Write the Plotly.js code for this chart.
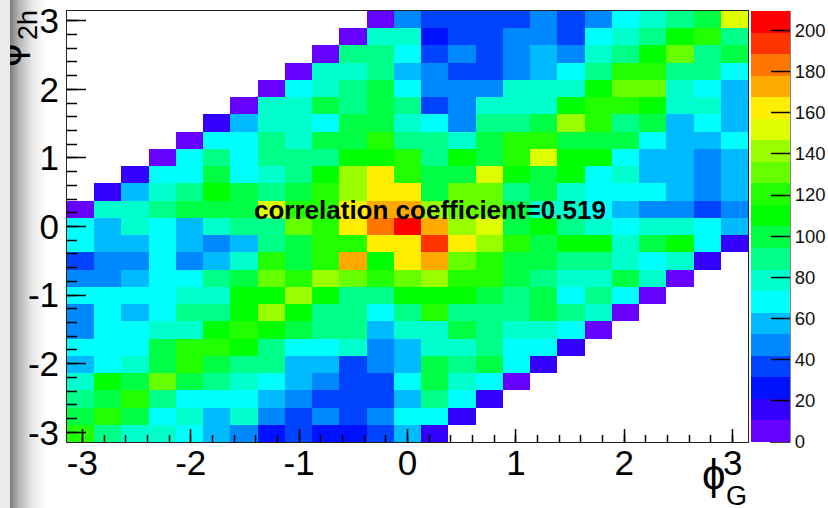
<!DOCTYPE html>
<html>
<head>
<meta charset="utf-8">
<script src="https://cdn.plot.ly/plotly-3.0.1.min.js"></script>
<style>
html,body{margin:0;padding:0;width:828px;height:508px;overflow:hidden;background:#fff;}
#bg{position:absolute;left:10px;top:0;width:36px;height:508px;background:linear-gradient(to right,#7d7d7d,#b5b5b5 25%,#e6e6e6 60%,#ffffff);}
#strip{position:absolute;left:0;top:0;width:10px;height:508px;background:#ebebeb;z-index:5;}
#chart{position:absolute;left:0;top:0;width:828px;height:508px;}
#tickTop{position:absolute;left:0;top:0;width:828px;height:508px;z-index:4;pointer-events:none;}
</style>
</head>
<body>
<div id="bg"></div>
<div id="chart"></div>
<svg id="tickTop" xmlns="http://www.w3.org/2000/svg" width="828" height="508"></svg>
<div id="strip"></div>
<script>
const N = null;
// counts per bin, bottom row (phi_2h = -pi) first
const row00 = [120,89,79,79,68,58,47,26,37,26,26,37,58,15,N,N,N,N,N,N,N,N,N,N,N];
const row01 = [99,120,99,68,79,58,79,47,37,47,37,47,68,68,15,N,N,N,N,N,N,N,N,N,N];
const row02 = [89,99,120,89,68,68,68,58,47,37,37,37,58,89,68,15,N,N,N,N,N,N,N,N,N];
const row03 = [79,110,99,131,99,89,79,68,58,47,37,37,68,99,79,68,5,N,N,N,N,N,N,N,N];
const row04 = [58,68,79,99,120,99,89,89,58,58,37,47,58,99,89,99,68,15,N,N,N,N,N,N,N];
const row05 = [68,68,68,99,120,120,110,89,68,68,79,47,58,79,79,89,68,68,15,N,N,N,N,N,N];
const row06 = [47,68,68,79,79,110,120,110,99,89,89,58,79,79,99,89,79,79,68,5,N,N,N,N,N];
const row07 = [47,68,58,68,89,89,110,141,110,89,89,68,89,120,89,89,89,99,89,79,5,N,N,N,N];
const row08 = [68,68,68,68,79,79,110,110,141,110,89,89,110,110,110,99,89,99,68,89,68,5,N,N,N];
const row09 = [47,47,58,68,68,89,99,131,120,141,131,120,131,141,120,120,99,89,79,79,99,79,5,N,N];
const row10 = [37,47,47,68,47,58,79,120,99,120,173,110,162,173,131,120,99,99,89,89,79,68,79,15,N];
const row11 = [68,58,58,68,58,47,58,89,99,120,120,162,162,194,162,141,120,99,110,110,79,99,110,68,15];
const row12 = [68,58,79,68,58,79,89,89,131,120,162,183,204,173,141,152,99,110,89,79,68,79,79,68,58];
const row13 = [5,79,79,89,99,99,99,152,120,120,162,173,173,141,131,131,99,79,79,68,58,47,47,37,47];
const row14 = [N,15,58,79,89,110,99,89,99,120,141,162,162,99,131,131,89,99,79,68,68,68,58,47,58];
const row15 = [N,N,15,68,68,99,68,79,89,110,141,162,120,99,99,152,110,99,110,68,79,58,58,47,58];
const row16 = [N,N,N,5,68,89,68,89,89,89,110,110,120,89,110,99,120,152,110,110,68,58,58,47,58];
const row17 = [N,N,N,N,5,68,68,89,79,99,99,120,89,89,79,99,120,120,99,99,99,68,58,58,68];
const row18 = [N,N,N,N,N,15,58,79,79,68,99,99,79,68,47,89,89,99,141,120,89,99,58,68,58];
const row19 = [N,N,N,N,N,N,5,79,79,99,89,99,89,37,47,79,79,79,110,120,120,110,79,79,58];
const row20 = [N,N,N,N,N,N,N,5,68,79,89,99,68,47,47,47,79,79,79,110,131,131,79,68,58];
const row21 = [N,N,N,N,N,N,N,N,5,79,79,89,58,47,37,37,47,58,68,89,120,120,89,89,68];
const row22 = [N,N,N,N,N,N,N,N,N,5,89,89,68,37,47,37,47,58,47,79,89,110,131,89,99];
const row23 = [N,N,N,N,N,N,N,N,N,N,5,79,79,26,37,37,47,47,37,68,79,89,110,120,89];
const row24 = [N,N,N,N,N,N,N,N,N,N,N,5,47,37,37,37,37,47,37,47,68,79,89,99,152];
const counts = [row00,row01,row02,row03,row04,row05,row06,row07,row08,row09,row10,row11,row12,
                row13,row14,row15,row16,row17,row18,row19,row20,row21,row22,row23,row24];
const bandColors = ['#6600ff','#3300ff','#0011ff','#0044ff','#0088ff','#00bbff','#00ffff','#00ffcc','#00ff88','#00ff44',
                    '#00ff00','#22ff00','#66ff00','#99ff00','#ddff00','#ffee00','#ffaa00','#ff7700','#ff3300','#ff0000'];
const colorTicks = [0,20,40,60,80,100,120,140,160,180,200];
const axisTicks = [-3,-2,-1,0,1,2,3];
const labelText = 'correlation coefficient=0.519';
const zTop = 209.4;

const PI = Math.PI, nBins = 25, W = 828, H = 508;
const L = 67, R = 748, T = 11, B = 441.7;
const scale = [];
bandColors.forEach((c,i)=>{ scale.push([i/bandColors.length,c]); scale.push([(i+1)/bandColors.length,c]); });
const px = x => (x-L)/(R-L);
const py = y => (B-y)/(B-T);
const font = 'Liberation Sans, Helvetica, Arial, sans-serif';

const axisBase = {
  range:[-PI,PI], tickvals:axisTicks, ticktext:axisTicks.map(String), ticks:'inside', tickcolor:'#000', tickwidth:1,
  showgrid:false, zeroline:false, showline:true, linecolor:'#222', linewidth:1, mirror:true, layer:'above traces',
  tickfont:{family:font,size:35,color:'#000'},
  minor:{dtick:0.2, tick0:0, ticks:'inside', tickcolor:'#222', tickwidth:1, showgrid:false}
};
const trace = {
  type:'heatmap', z:counts, x0:-PI+PI/nBins, dx:2*PI/nBins, y0:-PI+PI/nBins, dy:2*PI/nBins,
  zmin:0, zmax:zTop, colorscale:scale, hoverongaps:false,
  colorbar:{
    thicknessmode:'pixels', thickness:38.5, lenmode:'fraction', len:1, x:(751-L)/(R-L), xanchor:'left',
    y:0, yanchor:'bottom', ypad:0, xpad:0, outlinewidth:1, outlinecolor:'rgba(0,0,0,0)', borderwidth:0,
    tickvals:colorTicks, ticktext:colorTicks.map(String), ticks:'inside', ticklen:19, tickwidth:1, tickcolor:'#000',
    tickfont:{family:font,size:18.5,color:'#111'}
  }
};
const layout = {
  width:W, height:H, margin:{l:L,r:W-R,t:T,b:H-B,pad:0,autoexpand:false},
  paper_bgcolor:'rgba(0,0,0,0)', plot_bgcolor:'rgba(255,255,255,1)', showlegend:false,
  xaxis:Object.assign({},axisBase,{ticklen:13,ticklabelstandoff:-10,minor:Object.assign({},axisBase.minor,{ticklen:7})}),
  yaxis:Object.assign({},axisBase,{ticklen:19,minor:Object.assign({},axisBase.minor,{ticklen:10})}),
  shapes:[
    {type:'line',xref:'paper',yref:'paper',x0:px(790),x1:px(790),y0:-0.001,y1:1,line:{color:'#111',width:1}},
    {type:'line',xref:'paper',yref:'paper',x0:px(770),x1:px(790),y0:py(442),y1:py(442),line:{color:'#111',width:1}}
  ],
  annotations:[
    {xref:'paper',yref:'paper',x:px(429.5),y:py(210),text:labelText,showarrow:false,xanchor:'center',yanchor:'middle',
     font:{family:font,size:26,color:'#000',weight:700}},
    {xref:'paper',yref:'paper',x:px(714),y:py(474),text:'ϕ',showarrow:false,xanchor:'center',yanchor:'middle',
     font:{family:font,size:42,color:'#000'}},
    {xref:'paper',yref:'paper',x:px(736),y:py(496),text:'G',showarrow:false,xanchor:'center',yanchor:'middle',
     font:{family:font,size:27,color:'#000'}},
    {xref:'paper',yref:'paper',x:px(28),y:py(25),text:'2h',showarrow:false,textangle:-90,xanchor:'center',yanchor:'middle',
     font:{family:font,size:27,color:'#000'}},
    {xref:'paper',yref:'paper',x:px(6),y:py(55),text:'ϕ',showarrow:false,textangle:-90,xanchor:'center',yanchor:'middle',
     font:{family:font,size:42,color:'#000'}}
  ]
};
Plotly.newPlot('chart',[trace],layout,{displayModeBar:false,staticPlot:true}).then(()=>{
  // repeat the library's own tick marks on a top layer so they stay visible over the coloured cells
  const top = document.getElementById('tickTop');
  document.querySelectorAll('#chart path.ticks').forEach(p=>{
    const r = p.getBoundingClientRect();
    const line = document.createElementNS('http://www.w3.org/2000/svg','line');
    if (r.width > r.height) {
      const y = Math.round(r.top + r.height/2 - 0.5) + 0.5;
      line.setAttribute('x1',r.left); line.setAttribute('x2',r.right);
      line.setAttribute('y1',y); line.setAttribute('y2',y);
    } else {
      const x = Math.round(r.left + r.width/2 - 0.5) + 0.5;
      line.setAttribute('x1',x); line.setAttribute('x2',x);
      line.setAttribute('y1',r.top); line.setAttribute('y2',r.bottom);
    }
    line.setAttribute('stroke','#000');
    line.setAttribute('stroke-width','1.5');
    top.appendChild(line);
  });
});
</script>
</body>
</html>
